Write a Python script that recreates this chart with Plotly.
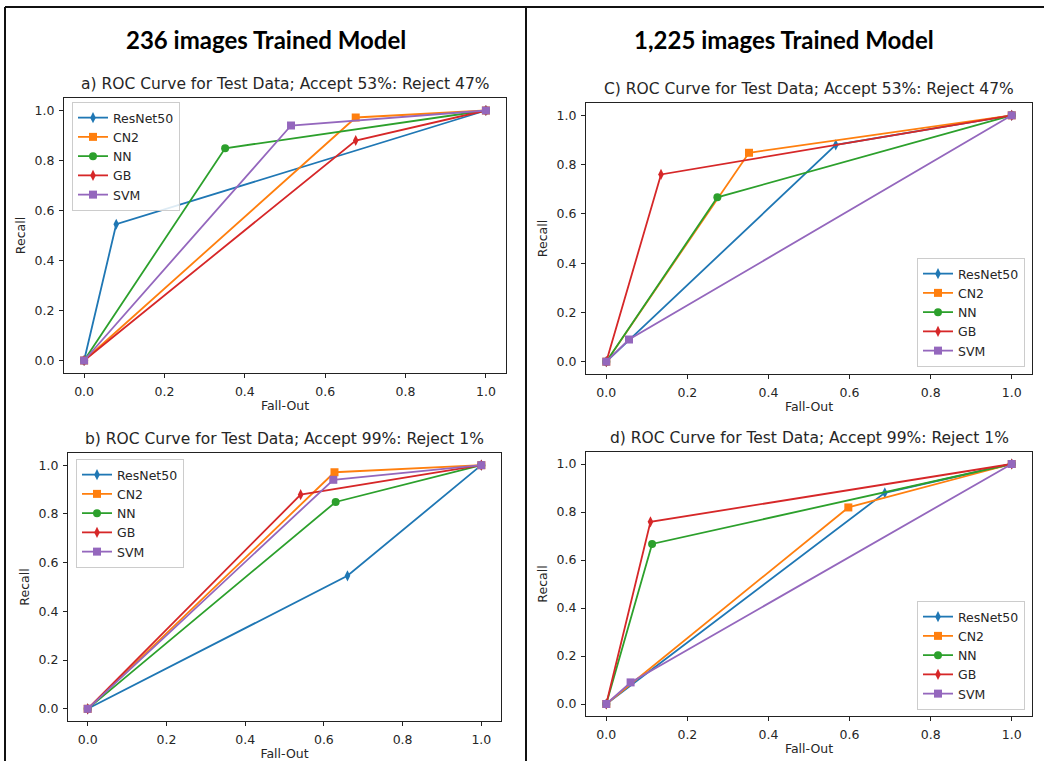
import plotly.graph_objects as go

W, H = 1044, 761

MODELS = ["ResNet50", "CN2", "NN", "GB", "SVM"]
COLORS = ["#1f77b4", "#ff7f0e", "#2ca02c", "#d62728", "#9467bd"]
SYMBOLS = ["diamond-tall", "square", "circle", "diamond-tall", "square"]

HEADERS = ["236 images Trained Model", "1,225 images Trained Model"]
TITLES = [
    "a) ROC Curve for Test Data; Accept 53%: Reject 47%",
    "b) ROC Curve for Test Data; Accept 99%: Reject 1%",
    "C) ROC Curve for Test Data; Accept 53%: Reject 47%",
    "d) ROC Curve for Test Data; Accept 99%: Reject 1%",
]
TICKS = [0.0, 0.2, 0.4, 0.6, 0.8, 1.0]
TICK_TEXT = ["0.0", "0.2", "0.4", "0.6", "0.8", "1.0"]

# Fall-Out (x) and Recall (y) per model, order = MODELS
A_X = [[0, 0.08, 1], [0, 0.676, 1], [0, 0.351, 1], [0, 0.676, 1], [0, 0.515, 1]]
A_Y = [[0, 0.545, 1], [0, 0.972, 1], [0, 0.849, 1], [0, 0.88, 1], [0, 0.94, 1]]

B_X = [[0, 0.66, 1], [0, 0.627, 1], [0, 0.63, 1], [0, 0.541, 1], [0, 0.624, 1]]
B_Y = [[0, 0.546, 1], [0, 0.971, 1], [0, 0.849, 1], [0, 0.879, 1], [0, 0.94, 1]]

C_X = [[0, 0.566, 1], [0, 0.352, 1], [0, 0.274, 1], [0, 0.135, 1], [0, 0.056, 1]]
C_Y = [[0, 0.88, 1], [0, 0.848, 1], [0, 0.667, 1], [0, 0.76, 1], [0, 0.09, 1]]

D_X = [[0, 0.687, 1], [0, 0.597, 1], [0, 0.113, 1], [0, 0.109, 1], [0, 0.06, 1]]
D_Y = [[0, 0.88, 1], [0, 0.819, 1], [0, 0.667, 1], [0, 0.759, 1], [0, 0.09, 1]]

# layout (pixel boxes of the axes: left, right, top, bottom)
BOXES = [(64, 506, 98, 373), (68, 501, 453, 721), (586, 1032, 103, 374), (586, 1032, 452, 716)]
LEGEND_POS = [(72, 102, "left", "top"), (76, 459, "left", "top"),
              (1025, 367, "right", "bottom"), (1025, 710, "right", "bottom")]

PANEL_X = [A_X, B_X, C_X, D_X]
PANEL_Y = [A_Y, B_Y, C_Y, D_Y]

fig = go.Figure()

def px(x):
    return x / W

def py(y):
    return 1 - y / H

TXT = "#262626"
TICK_FONT = dict(family="DejaVu Sans", size=12.5, color=TXT)

for p in range(4):
    ax = "" if p == 0 else str(p + 1)
    leg = "legend" if p == 0 else "legend%d" % (p + 1)
    for m in range(5):
        fig.add_trace(go.Scatter(
            x=PANEL_X[p][m], y=PANEL_Y[p][m], mode="lines+markers", name=MODELS[m],
            line=dict(color=COLORS[m], width=1.8),
            marker=dict(symbol=SYMBOLS[m], size=8, color=COLORS[m]),
            xaxis="x" + ax, yaxis="y" + ax, legend=leg, showlegend=True,
        ))
    l, r, t, b = BOXES[p]
    common = dict(
        range=[-0.05, 1.05], tickmode="array", tickvals=TICKS, ticktext=TICK_TEXT,
        showgrid=False, zeroline=False, showline=True, mirror=True,
        linecolor="#222", linewidth=1, ticks="outside", ticklen=4, tickwidth=1, tickcolor="#222",
        tickfont=TICK_FONT,
    )
    fig.update_layout(**{
        "xaxis" + ax: dict(common, domain=[px(l), px(r)], anchor="y" + ax, ticklabelstandoff=3,
                           title=dict(text="Fall-Out", standoff=3,
                                      font=dict(family="DejaVu Sans", size=12.5, color=TXT))),
        "yaxis" + ax: dict(common, domain=[py(b), py(t)], anchor="x" + ax, ticklabelstandoff=2,
                           title=dict(text="Recall", standoff=6,
                                      font=dict(family="DejaVu Sans", size=12.5, color=TXT))),
    })
    lx, ly, xa, ya = LEGEND_POS[p]
    fig.update_layout(**{leg: dict(
        x=px(lx), y=py(ly), xanchor=xa, yanchor=ya, xref="paper", yref="paper",
        bgcolor="rgba(255,255,255,0.85)", bordercolor="#cccccc", borderwidth=1,
        font=dict(family="DejaVu Sans", size=12.5, color=TXT),
        tracegroupgap=0, itemwidth=30,
    )})
    fig.add_annotation(
        x=px((l + r) / 2), y=py(t - 3), xref="paper", yref="paper",
        text=TITLES[p], showarrow=False, xanchor="center", yanchor="bottom",
        font=dict(family="DejaVu Sans", size=15.5, color=TXT),
    )

HEADER_X = [266, 784]
for i in range(2):
    fig.add_annotation(
        x=px(HEADER_X[i]), y=py(40), xref="paper", yref="paper",
        text="<b>%s</b>" % HEADERS[i], showarrow=False, xanchor="center", yanchor="middle",
        font=dict(family="Lato", size=24, color="#000000"),
    )

# frame lines
for (x0, y0, x1, y1) in [(5, 7, W, 7), (5, 7, 5, H), (526, 7, 526, H)]:
    fig.add_shape(type="line", xref="paper", yref="paper",
                  x0=px(x0), y0=py(y0), x1=px(x1), y1=py(y1),
                  line=dict(color="#111111", width=2))

fig.update_layout(
    width=W, height=H, margin=dict(l=0, r=0, t=0, b=0),
    paper_bgcolor="white", plot_bgcolor="white",
)

fig.write_html("out.html")
